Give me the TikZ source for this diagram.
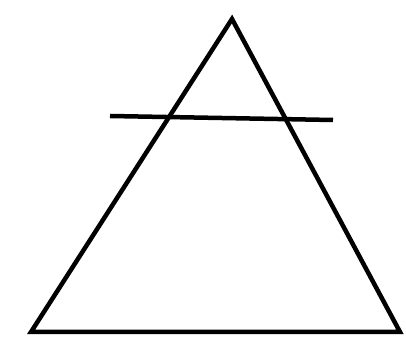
\documentclass[tikz,border=0pt]{standalone}
\usepackage{tikz}

\begin{document}
\begin{tikzpicture}[
        x=1pt, y=1pt,
        stroke/.style={draw=black, line width=4.5pt, line join=miter}
    ]
        \useasboundingbox (0,0) rectangle (406,344);
        % triangle corners
        \coordinate (apex) at (232,325);
        \coordinate (bl)   at (31,12);
        \coordinate (br)   at (400,12);
        % crossing bar
        \coordinate (barl) at (110,228);
        \coordinate (barr) at (333,224);

        \draw[stroke] (apex) -- (br) -- (bl) -- cycle;
        \draw[stroke] (barl) -- (barr);
    \end{tikzpicture}
\end{document}
